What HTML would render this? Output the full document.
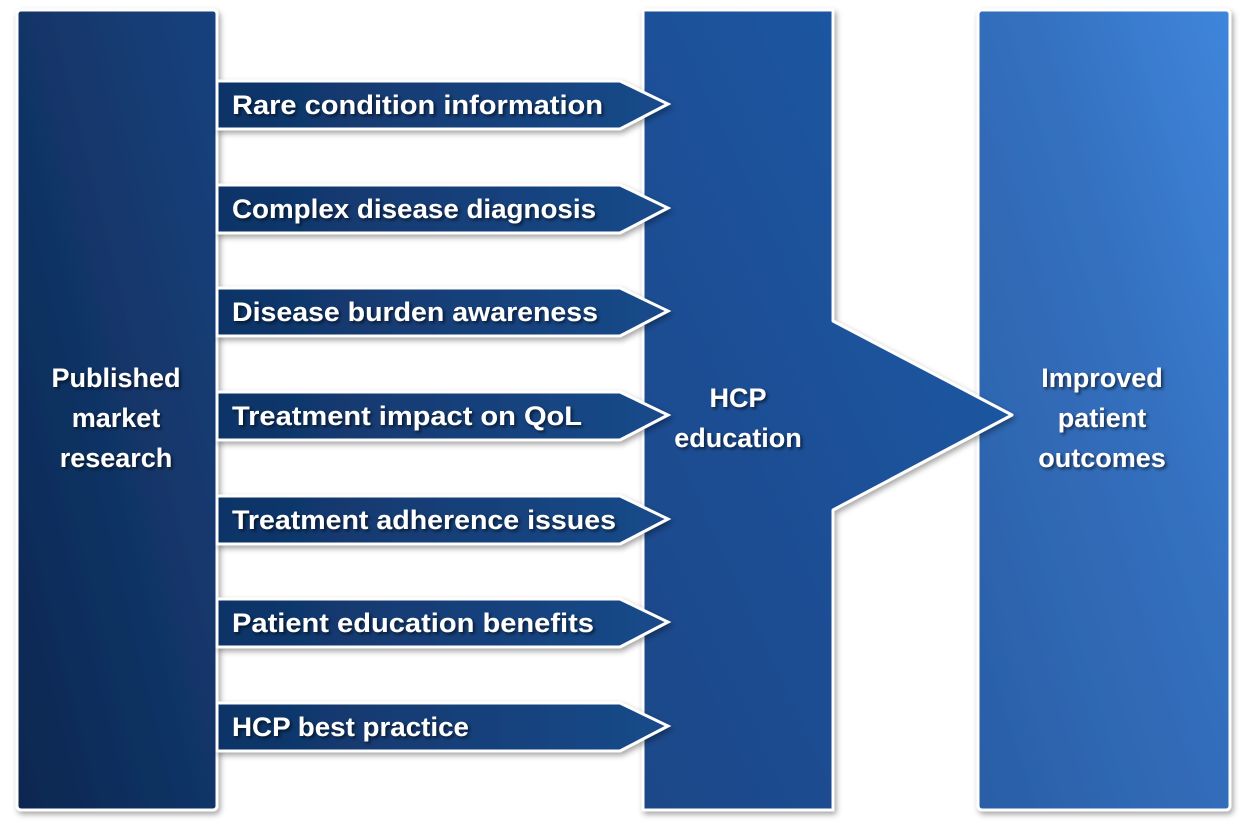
<!DOCTYPE html>
<html><head><meta charset="utf-8"><style>
html,body{margin:0;padding:0;background:#fff;width:1247px;height:829px;overflow:hidden}
svg{display:block}
text{font-family:"Liberation Sans",sans-serif;font-weight:bold;fill:#fff}
</style></head><body>
<svg width="1247" height="829" viewBox="0 0 1247 829" xmlns="http://www.w3.org/2000/svg">
<defs>
<linearGradient id="gl" x1="0" y1="1" x2="1" y2="0"><stop offset="0" stop-color="#0c2750"/><stop offset="1" stop-color="#17427e"/></linearGradient>
<linearGradient id="gm" x1="0" y1="1" x2="1" y2="0"><stop offset="0" stop-color="#1a4788"/><stop offset="1" stop-color="#1f5aa8"/></linearGradient>
<linearGradient id="gr" x1="0" y1="1" x2="1" y2="0"><stop offset="0" stop-color="#2a5ea6"/><stop offset="0.6" stop-color="#3470bf"/><stop offset="1" stop-color="#3f86dc"/></linearGradient>
<linearGradient id="gb" x1="0" y1="0" x2="1" y2="0"><stop offset="0" stop-color="#0f3366"/><stop offset="1" stop-color="#1a4a8a"/></linearGradient>
<filter id="sh" x="-5%" y="-5%" width="110%" height="110%"><feDropShadow dx="2" dy="3" stdDeviation="3" flood-color="#000" flood-opacity="0.35"/></filter>
<filter id="ts"><feDropShadow dx="2" dy="2" stdDeviation="1.5" flood-color="#000" flood-opacity="0.6"/></filter>
</defs>
<rect x="17" y="10" width="200" height="800" rx="4" fill="url(#gl)" stroke="#fff" stroke-width="3" filter="url(#sh)"/>
<rect x="978" y="10" width="252" height="800" rx="4" fill="url(#gr)" stroke="#fff" stroke-width="3" filter="url(#sh)"/>
<polygon points="643,10 833,10 833,321 1012,415 833,510 833,810 643,810" fill="url(#gm)" stroke="#fff" stroke-width="3" stroke-linejoin="round" filter="url(#sh)"/>
<g fill="url(#gb)" stroke="#fff" stroke-width="3" filter="url(#sh)">
<polygon points="217,81 620,81 668,104 620,129 217,129"/>
<polygon points="217,185 620,185 668,208 620,233 217,233"/>
<polygon points="217,288 620,288 668,311 620,336 217,336"/>
<polygon points="217,392 620,392 668,415 620,440 217,440"/>
<polygon points="217,496 620,496 668,519 620,544 217,544"/>
<polygon points="217,599 620,599 668,622 620,647 217,647"/>
<polygon points="217,703 620,703 668,726 620,751 217,751"/>
</g>
<g font-size="27" filter="url(#ts)">
<text x="232" y="114" textLength="371" lengthAdjust="spacingAndGlyphs">Rare condition information</text>
<text x="232" y="218" textLength="364" lengthAdjust="spacingAndGlyphs">Complex disease diagnosis</text>
<text x="232" y="321" textLength="366" lengthAdjust="spacingAndGlyphs">Disease burden awareness</text>
<text x="232" y="425" textLength="350" lengthAdjust="spacingAndGlyphs">Treatment impact on QoL</text>
<text x="232" y="529" textLength="384" lengthAdjust="spacingAndGlyphs">Treatment adherence issues</text>
<text x="232" y="632" textLength="362" lengthAdjust="spacingAndGlyphs">Patient education benefits</text>
<text x="232" y="736" textLength="237" lengthAdjust="spacingAndGlyphs">HCP best practice</text>
</g>
<g font-size="27" text-anchor="middle" filter="url(#ts)">
<text x="116" y="387">Published</text>
<text x="116" y="427">market</text>
<text x="116" y="467">research</text>
<text x="738" y="407">HCP</text>
<text x="738" y="447">education</text>
<text x="1102" y="387">Improved</text>
<text x="1102" y="427">patient</text>
<text x="1102" y="467">outcomes</text>
</g>
</svg>
</body></html>
